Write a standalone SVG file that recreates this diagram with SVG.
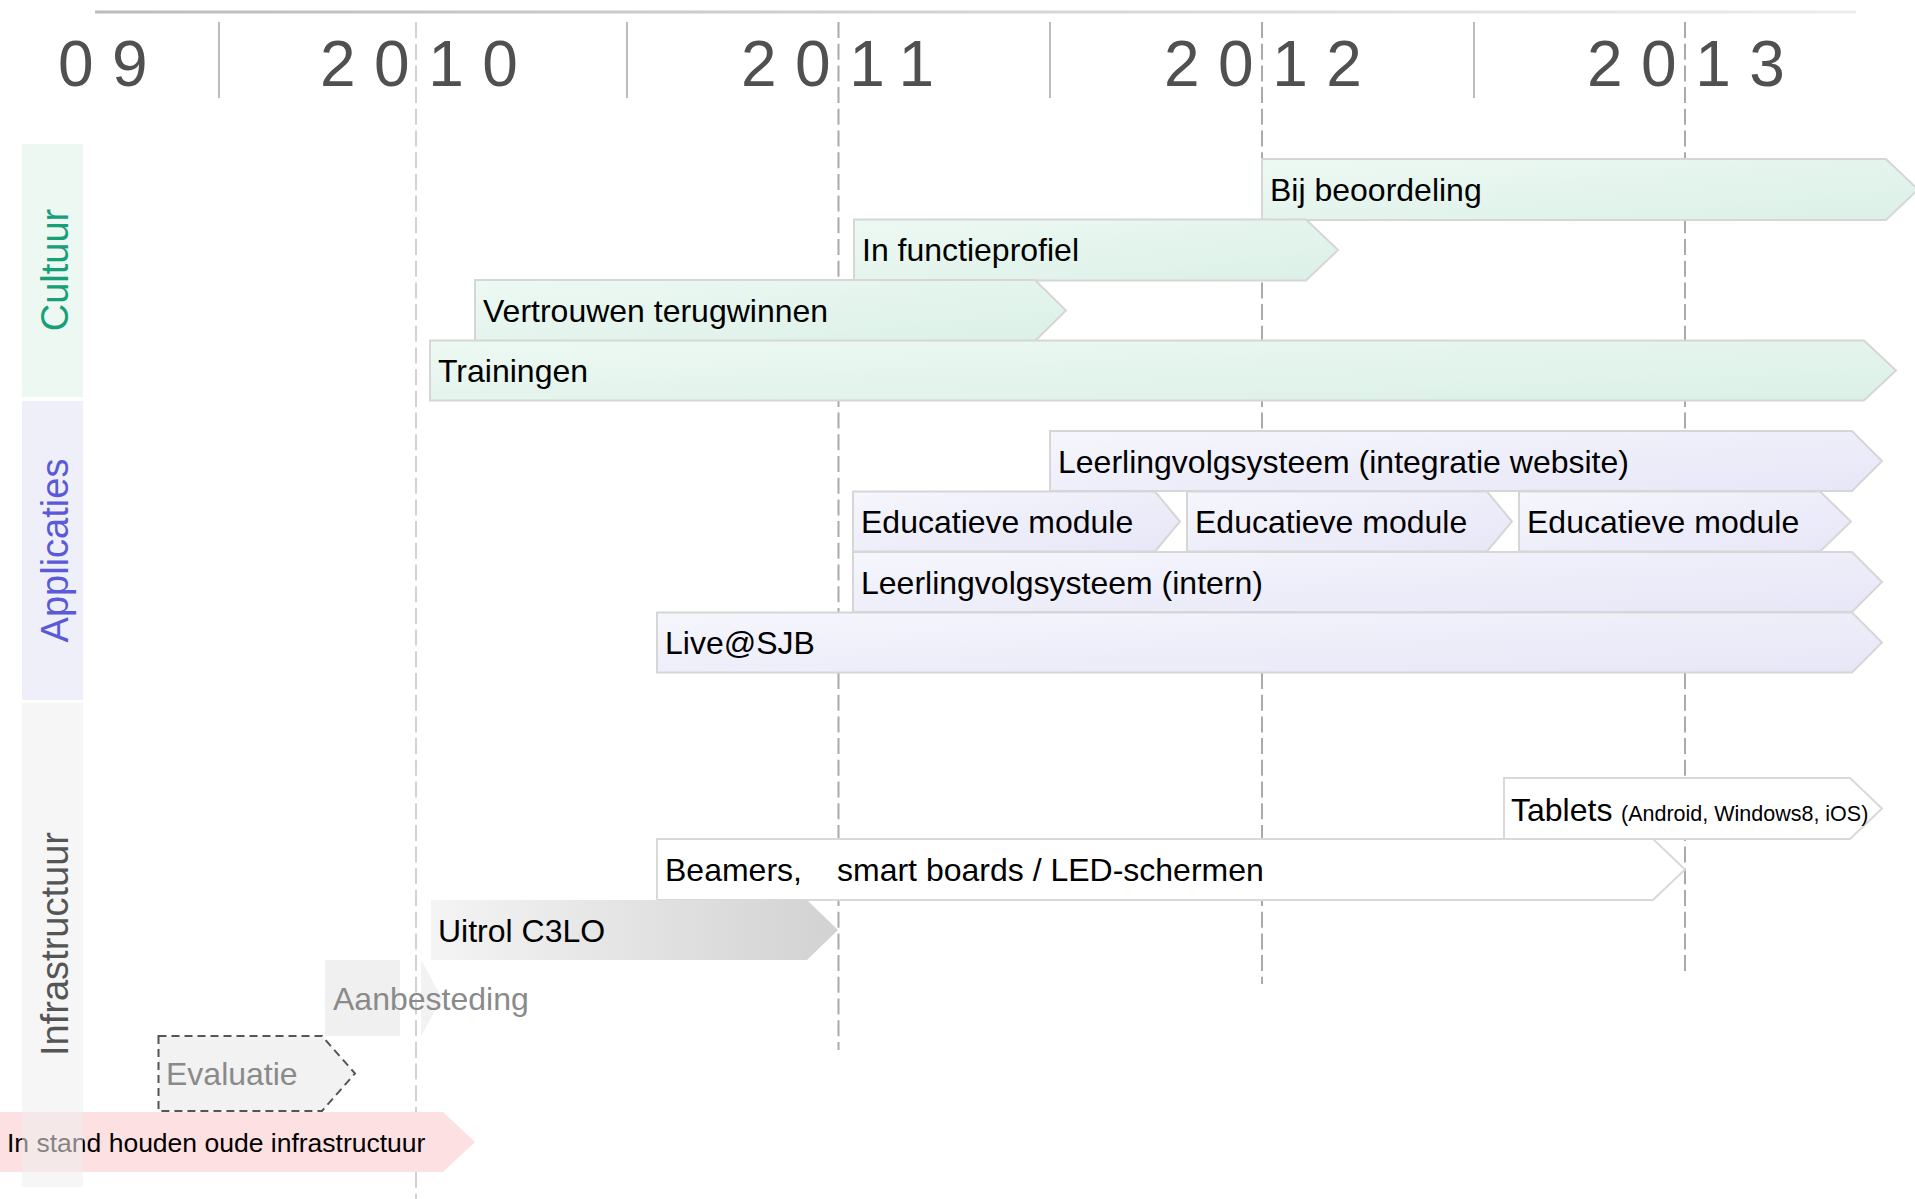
<svg xmlns="http://www.w3.org/2000/svg" width="1915" height="1199" viewBox="0 0 1915 1199">
<defs>
<linearGradient id="gMint" x1="0" y1="0" x2="1" y2="1"><stop offset="0" stop-color="#edf9f3"/><stop offset="1" stop-color="#dbf0e6"/></linearGradient>
<linearGradient id="gLav" x1="0" y1="0" x2="1" y2="1"><stop offset="0" stop-color="#f6f6fd"/><stop offset="1" stop-color="#e6e6f7"/></linearGradient>
<linearGradient id="gGray" x1="0" y1="0" x2="1" y2="0"><stop offset="0" stop-color="#f4f4f4"/><stop offset="1" stop-color="#d2d2d2"/></linearGradient>
<linearGradient id="gTop" x1="0" y1="0" x2="1" y2="0"><stop offset="0" stop-color="#bcbcbc"/><stop offset="1" stop-color="#ececec"/></linearGradient>
</defs>
<style>
.yr{font-family:"Liberation Sans",Arial,sans-serif;font-size:64px;letter-spacing:18.5px;fill:#505050}
.sep{stroke:#bdbdbd;stroke-width:2}
.dash{stroke:#aaaaaa;stroke-width:2;stroke-dasharray:16 5.7;fill:none}
.lane{font-family:"Liberation Sans",Arial,sans-serif;font-size:38px;text-anchor:middle}
.lbl{font-family:"Liberation Sans",Arial,sans-serif;font-size:32px;fill:#000}
.mint{fill:url(#gMint);stroke:#d6d6d6;stroke-width:2}
.lav{fill:url(#gLav);stroke:#d6d6d6;stroke-width:2}
.wht{fill:#ffffff;stroke:#d9d9d9;stroke-width:2}
.faint{fill:#8a8a8a}
</style>
<rect width="1915" height="1199" fill="#ffffff"/>
<g id="timeline">
<rect x="95" y="10.5" width="1761" height="3" fill="url(#gTop)"/>
<line class="sep" x1="219" y1="22" x2="219" y2="98"/>
<line class="sep" x1="627" y1="22" x2="627" y2="98"/>
<line class="sep" x1="1050" y1="22" x2="1050" y2="98"/>
<line class="sep" x1="1474" y1="22" x2="1474" y2="98"/>
<text class="yr" x="58" y="86">09</text>
<text class="yr" x="320" y="86">2010</text>
<text class="yr" x="741" y="86">2011</text>
<text class="yr" x="1164" y="86">2012</text>
<text class="yr" x="1587" y="86">2013</text>
<line class="dash" x1="416" y1="22" x2="416" y2="1199" style="stroke:#d2d2d2"/>
<line class="dash" x1="838.5" y1="22" x2="838.5" y2="1050"/>
<line class="dash" x1="1262" y1="22" x2="1262" y2="984"/>
<line class="dash" x1="1685" y1="22" x2="1685" y2="975"/>
</g>
<g id="connectors"></g>
<g id="bar-in-stand">
<path d="M-5 1112 H443 L475 1142 L443 1172 H-5 Z" fill="#fde0e2"/>
<text class="lbl" x="7" y="1151.5" style="font-size:26.5px">In stand houden oude infrastructuur</text>
</g>
<g id="bar-bij-beoordeling">
<path class="mint" d="M1262 159 H1886 L1918 189.5 L1886 220 H1262 Z"/>
<text class="lbl" x="1270" y="200.5">Bij beoordeling</text>
</g>
<g id="bar-in-functieprofiel">
<path class="mint" d="M854 219.5 H1306 L1338 250 L1306 280.5 H854 Z"/>
<text class="lbl" x="862" y="261">In functieprofiel</text>
</g>
<g id="bar-vertrouwen">
<path class="mint" d="M475 280 H1035 L1066 310.5 L1035 341 H475 Z"/>
<text class="lbl" x="483" y="321.5">Vertrouwen terugwinnen</text>
</g>
<g id="bar-trainingen">
<path class="mint" d="M430 340.5 H1864 L1896 370.5 L1864 400.5 H430 Z"/>
<text class="lbl" x="438" y="382">Trainingen</text>
</g>
<g id="bar-lvs-website">
<path class="lav" d="M1050 431 H1852 L1882 461 L1852 491 H1050 Z"/>
<text class="lbl" x="1058" y="472.5">Leerlingvolgsysteem (integratie website)</text>
</g>
<g id="bar-edu-1">
<path class="lav" d="M853 491.5 H1155 L1180 521.5 L1155 551.5 H853 Z"/>
<text class="lbl" x="861" y="533">Educatieve module</text>
</g>
<g id="bar-edu-2">
<path class="lav" d="M1187 491.5 H1487 L1512 521.5 L1487 551.5 H1187 Z"/>
<text class="lbl" x="1195" y="533">Educatieve module</text>
</g>
<g id="bar-edu-3">
<path class="lav" d="M1519 491.5 H1820 L1851 521.5 L1820 551.5 H1519 Z"/>
<text class="lbl" x="1527" y="533">Educatieve module</text>
</g>
<g id="bar-lvs-intern">
<path class="lav" d="M853 552 H1852 L1882 582 L1852 612 H853 Z"/>
<text class="lbl" x="861" y="593.5">Leerlingvolgsysteem (intern)</text>
</g>
<g id="bar-live">
<path class="lav" d="M657 612.5 H1852 L1882 642.5 L1852 672.5 H657 Z"/>
<text class="lbl" x="665" y="654">Live@SJB</text>
</g>
<g id="bar-tablets">
<path class="wht" d="M1504 778 H1850 L1882 808.5 L1850 839 H1504 Z"/>
<text class="lbl" x="1511" y="820.5">Tablets<tspan x="1621" style="font-size:21.5px">(Android, Windows8, iOS)</tspan></text>
</g>
<g id="bar-beamers">
<path class="wht" d="M657 839 H1653 L1685 869.5 L1653 900 H657 Z"/>
<text class="lbl" x="665" y="881">Beamers,<tspan x="837">smart boards / LED-schermen</tspan></text>
</g>
<g id="bar-uitrol">
<path d="M431 900 H807 L838 930 L807 960 H431 Z" fill="url(#gGray)"/>
<text class="lbl" x="438" y="941.5">Uitrol C3LO</text>
</g>
<g id="bar-aanbesteding">
<rect x="325" y="960" width="75" height="76" fill="#f0f0f0"/>
<path d="M421 960 L442 998 L421 1036 Z" fill="#f2f2f2"/>
<text class="lbl faint" x="333" y="1009.5">Aanbesteding</text>
</g>
<g id="bar-evaluatie">
<path d="M158.5 1036 H322 L355 1073.5 L322 1111 H158.5 Z" fill="#f2f2f2" stroke="#555555" stroke-width="2" stroke-dasharray="8 5"/>
<text class="lbl faint" x="166" y="1085">Evaluatie</text>
</g>
<g id="lane-cultuur">
<rect x="22" y="144" width="61" height="253" fill="#edf8f2"/>
<text class="lane" transform="translate(67.5 270) rotate(-90)" fill="#17a077">Cultuur</text>
</g>
<g id="lane-applicaties">
<rect x="22" y="401" width="61" height="299" fill="#efeffa"/>
<text class="lane" transform="translate(67.5 550.5) rotate(-90)" fill="#5a5ad8">Applicaties</text>
</g>
<g id="lane-infrastructuur">
<rect x="22" y="703" width="61" height="484" fill="#efefef" fill-opacity="0.55"/>
<text class="lane" transform="translate(67.5 944) rotate(-90)" fill="#555555">Infrastructuur</text>
</g>
</svg>
